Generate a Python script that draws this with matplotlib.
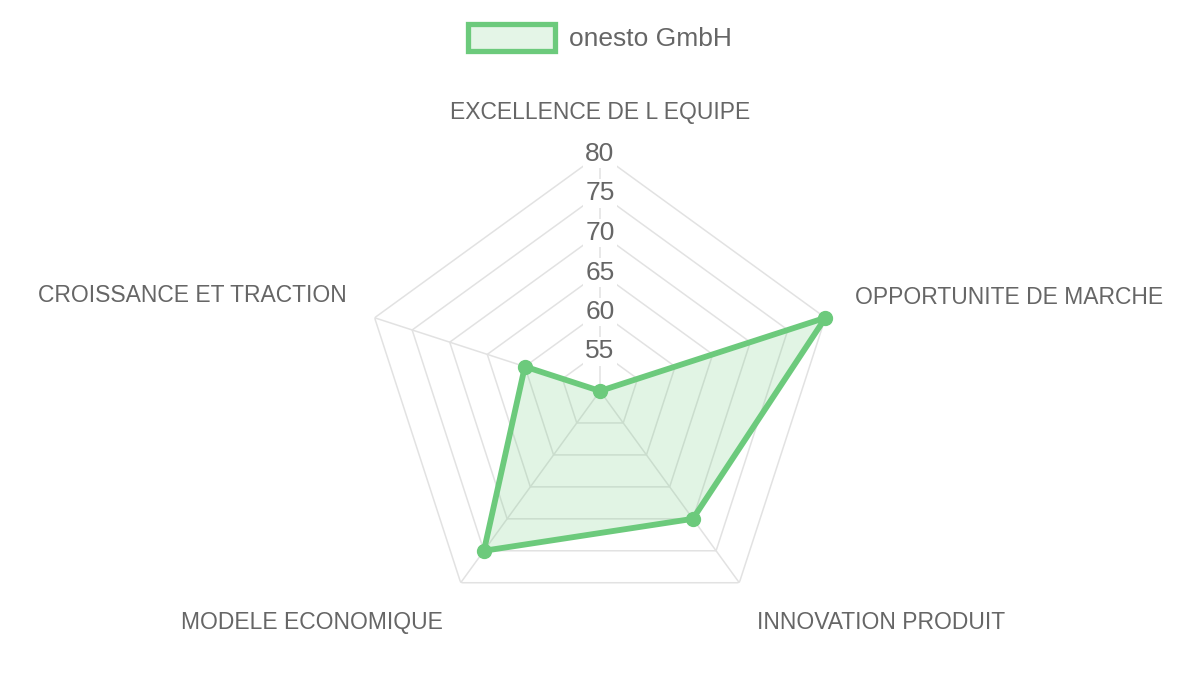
"""
Radar chart: onesto GmbH scores on five assessment axes.
Saves out.png (1200x675).
"""

import numpy as np
import matplotlib
matplotlib.use("Agg")
import matplotlib.pyplot as plt
from matplotlib.patches import Patch

plt.rcParams["font.family"] = ["Liberation Sans", "DejaVu Sans"]

# ── Data ──────────────────────────────────────────────────────────────────────

categories = [
    "EXCELLENCE DE L EQUIPE",
    "OPPORTUNITE DE MARCHE",
    "INNOVATION PRODUIT",
    "MODELE ECONOMIQUE",
    "CROISSANCE ET TRACTION",
]
scores = [50, 80, 70, 75, 60]
series_name = "onesto GmbH"

r_min, r_max = 50, 80
tick_values = [55, 60, 65, 70, 75, 80]

# ── Style ─────────────────────────────────────────────────────────────────────

LINE = "#6cca7c"
FILL = (0.424, 0.792, 0.486, 0.2)
GRID = "#e2e2e2"
TEXT = "#666666"

# label offsets (pixels from the outer vertex) and alignment, per axis
label_layout = [
    ((0, 41), "center"),
    ((30, 20), "left"),
    ((18, -40), "left"),
    ((-18, -40), "right"),
    ((-28, 22), "right"),
]

# ── Figure ────────────────────────────────────────────────────────────────────

fig = plt.figure(figsize=(12, 6.75), dpi=100)
# centre at (600, 391) px, radius 237 px
ax = fig.add_axes([363 / 1200, 47 / 675, 474 / 1200, 474 / 675], projection="polar")
ax.set_theta_zero_location("N")
ax.set_theta_direction(-1)
ax.set_ylim(r_min, r_max)
ax.grid(False)
ax.set_xticks([])
ax.set_yticks([])
ax.spines["polar"].set_visible(False)
ax.patch.set_visible(False)

n = len(categories)
angles = np.linspace(0, 2 * np.pi, n, endpoint=False)
closed_angles = np.append(angles, angles[0])

# grid pentagons
for v in tick_values:
    ax.plot(closed_angles, [v] * (n + 1), color=GRID, lw=1.1, zorder=1)

# spokes
for a in angles:
    ax.plot([a, a], [r_min, r_max], color=GRID, lw=1.1, zorder=1)

# tick labels along the top spoke
for v in tick_values:
    ax.text(0, v, str(v), ha="center", va="center", fontsize=19, color=TEXT,
            zorder=2, bbox=dict(facecolor="white", edgecolor="none", pad=1.5))

# axis labels
for a, name, (offset, ha) in zip(angles, categories, label_layout):
    ax.annotate(name, xy=(a, r_max), xytext=offset, textcoords="offset pixels",
                ha=ha, va="center", fontsize=16.5, color=TEXT,
                annotation_clip=False)

# data
closed_scores = scores + scores[:1]
ax.fill(closed_angles, closed_scores, color=FILL, zorder=3)
ax.plot(closed_angles, closed_scores, color=LINE, lw=4.2, zorder=4,
        solid_joinstyle="round", clip_on=False)
ax.plot(angles, scores, "o", color=LINE, markersize=10, zorder=5, clip_on=False)

# legend
handle = Patch(facecolor=(0.424, 0.792, 0.486, 0.18), edgecolor=LINE, linewidth=3.8)
fig.legend(handles=[handle], labels=[series_name], loc="upper center",
           bbox_to_anchor=(0.5, 0.999), frameon=False, fontsize=19,
           handlelength=3.3, handleheight=1.15, handletextpad=0.55,
           labelcolor=TEXT)

fig.savefig("out.png", dpi=100)
